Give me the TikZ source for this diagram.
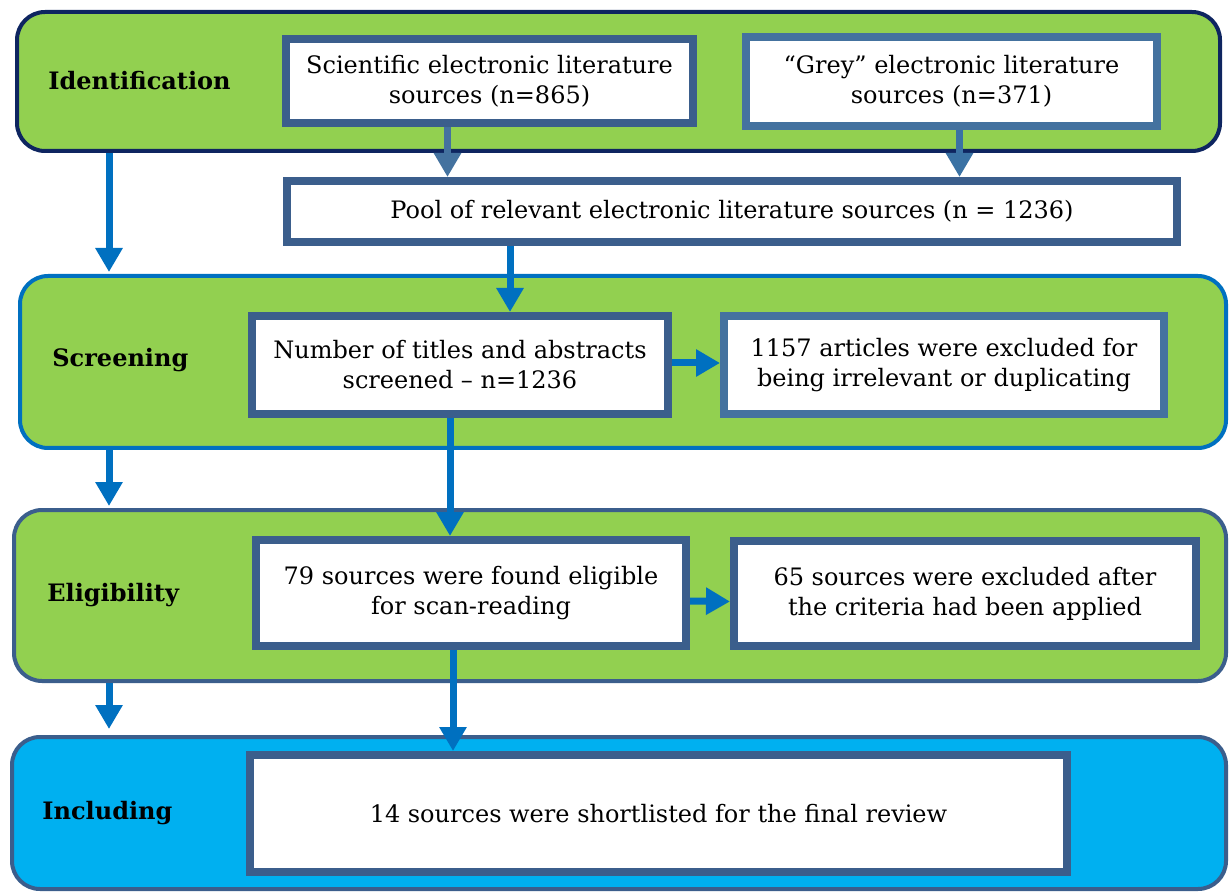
\documentclass[tikz,border=0pt]{standalone}
\usepackage{fontspec}
\setmainfont{DejaVu Serif}
\usetikzlibrary{arrows.meta}
\definecolor{bandgreen}{HTML}{92D050}
\definecolor{bandcyan}{HTML}{00B0F0}
\definecolor{navy}{HTML}{0E2560}
\definecolor{flowblue}{HTML}{0070C0}
\definecolor{slate}{HTML}{3B5E8C}
\definecolor{steel}{HTML}{44729F}

\begin{document}
\begin{tikzpicture}[x=0.5pt, y=-0.5pt, font=\fontsize{12}{15}\selectfont,
  band/.style={draw=slate, line width=2pt, fill=bandgreen, rounded corners=14pt, inner sep=0pt},
  srcbox/.style={draw=slate, line width=4pt, fill=white, align=center, inner sep=0pt},
  stage/.style={anchor=west, inner sep=0pt, font=\fontsize{12}{15}\selectfont\bfseries},
  flow/.style={draw=flowblue, line width=3.5pt, -{Triangle[width=13pt,length=12pt]}}]
  \useasboundingbox (0,0) rectangle (1230,892);

  % Identification
  \node[band, draw=navy, minimum width=601.5pt, minimum height=69.5pt] (ident) at (618.5,81.5) {};
  \node[stage] (identlbl) at (48,81) {Identification};
  \node[srcbox, minimum width=203.5pt, minimum height=42pt] (sci) at (489.5,81)
    {Scientific electronic literature\\sources (n=865)};
  \node[srcbox, draw=steel, minimum width=205.5pt, minimum height=44.5pt] (grey) at (951.5,81.5)
    {“Grey” electronic literature\\sources (n=371)};
  \node[srcbox, minimum width=445pt, minimum height=30.5pt] (pool) at (732,211.5)
    {Pool of relevant electronic literature sources (n = 1236)};

  % Screening
  \node[band, draw=flowblue, minimum width=603pt, minimum height=86pt] (screen) at (623,362) {};
  \node[stage] (screenlbl) at (52,360) {Screening};
  \node[srcbox, minimum width=208pt, minimum height=49pt] (titles) at (460,365)
    {Number of titles and abstracts\\screened – n=1236};
  \node[srcbox, draw=steel, minimum width=220pt, minimum height=49pt] (excl1) at (944,365)
    {1157 articles were excluded for\\being irrelevant or duplicating};

  % Eligibility
  \node[band, minimum width=606pt, minimum height=85.5pt] (elig) at (620,595.5) {};
  \node[stage] (eliglbl) at (47,595) {Eligibility};
  \node[srcbox, minimum width=215pt, minimum height=53pt] (found) at (471,593)
    {79 sources were found eligible\\for scan-reading};
  \node[srcbox, minimum width=231pt, minimum height=52.5pt] (excl2) at (965,593.5)
    {65 sources were excluded after\\the criteria had been applied};

  % Including
  \node[band, fill=bandcyan, minimum width=607pt, minimum height=76pt] (incl) at (619,813) {};
  \node[stage] (incllbl) at (42,813) {Including};
  \node[srcbox, minimum width=408.5pt, minimum height=58.5pt] (final) at (658.5,813.5)
    {14 sources were shortlisted for the final review};

  % stage arrows on the left
  \coordinate (lane) at (109,0);
  \draw[flow] (ident.south -| lane) -- ([yshift=1pt]screen.north -| lane);
  \draw[flow] (screen.south -| lane) -- ([yshift=1pt]elig.north -| lane);
  \draw[flow] (elig.south -| lane) -- ([yshift=3pt]incl.north -| lane);

  % arrows between boxes
  \draw[flow, draw=steel] ([xshift=-21pt]sci.south) coordinate (s1) -- (s1 |- pool.north);
  \draw[flow, draw=steel!85!flowblue] ([xshift=4pt]grey.south) coordinate (s2) -- (s2 |- pool.north);
  \draw[flow] ([xshift=-111pt]pool.south) coordinate (s3) -- (s3 |- titles.north);
  \draw[flow] ([xshift=-5pt]titles.south) coordinate (s4) -- (s4 |- found.north);
  \draw[flow] ([xshift=-9pt]found.south) coordinate (s5) -- (s5 |- final.north);
  \draw[flow] ([yshift=1pt]titles.east) -- ([yshift=1pt]excl1.west);
  \draw[flow] ([yshift=-4pt]found.east) -- ([yshift=-4pt]excl2.west);
\end{tikzpicture}
\end{document}
